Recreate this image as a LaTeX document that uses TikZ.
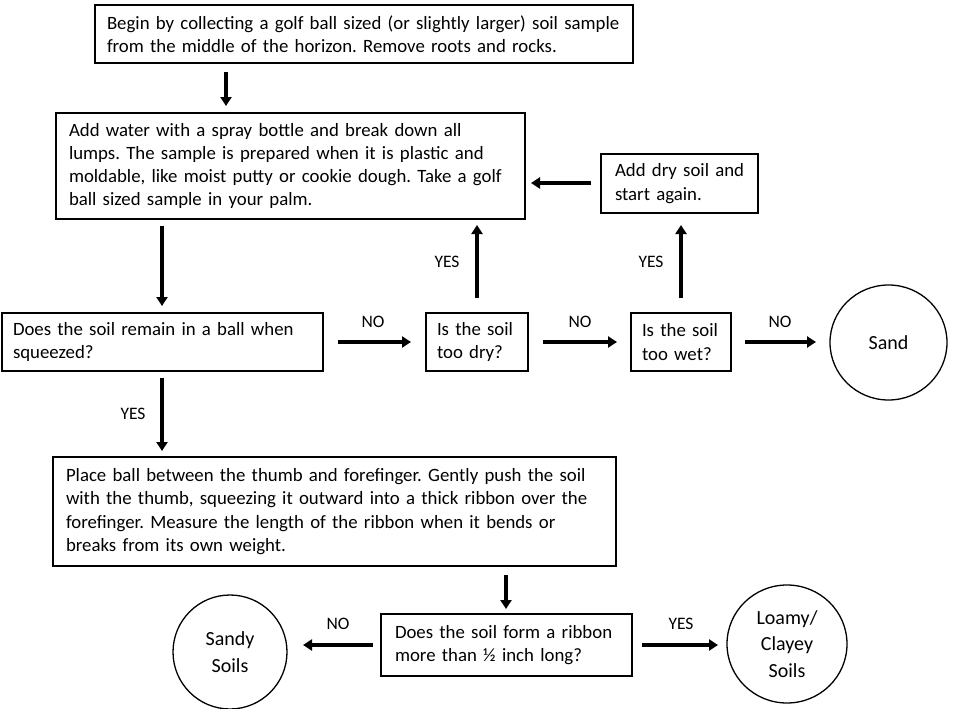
\documentclass[tikz,border=0pt]{standalone}
\usepackage{fontspec}
\setmainfont{Carlito}
\usetikzlibrary{arrows.meta,shapes.geometric}
\hyphenpenalty=10000
\exhyphenpenalty=10000
\begin{document}
\frenchspacing
\begin{tikzpicture}[x=1pt,y=-1pt,
  box/.style={draw, line width=1.2pt, align=left, inner ysep=0pt,
    font=\fontsize{18.8}{23.3}\selectfont},
  term/.style={draw, ellipse, line width=1.3pt, align=center, inner sep=0pt,
    font=\fontsize{20}{26.5}\selectfont},
  arr/.style={line width=3.2pt, -{Triangle[width=11pt,length=9pt]}},
  lab/.style={font=\fontsize{17.5}{18}\selectfont}]
\useasboundingbox (0,0) rectangle (953,709);
% boxes
\node[box, minimum width=538, minimum height=58, inner xsep=12pt, text width=514] (b1) at (364,34)
 {Begin by collecting a golf ball sized (or slightly larger) soil sample\\from the middle of the horizon. Remove roots and rocks.};
\node[box, minimum width=469, minimum height=106, inner xsep=13pt, text width=443] (b2) at (290.5,166)
 {Add water with a spray bottle and break down all\\lumps. The sample is prepared when it is plastic and\\moldable, like moist putty or cookie dough. Take a golf\\ball sized sample in your palm.};
\node[box, minimum width=157, minimum height=59, inner xsep=14pt, text width=129] (dry) at (679.5,183.5)
 {\mbox{Add dry soil and}\\\mbox{start again.}};
\node[box, minimum width=321, minimum height=58, inner xsep=11pt, text width=299] (q1) at (162.5,342)
 {Does the soil remain in a ball when\\squeezed?};
\node[box, minimum width=102, minimum height=58, inner xsep=11pt, text width=80] (q2) at (477,342)
 {Is the soil\\too dry?};
\node[box, minimum width=100, minimum height=58, inner xsep=11pt, text width=78] (q3) at (681,342)
 {Is the soil\\too wet?};
\node[box, minimum width=563, minimum height=109, inner xsep=13pt, text width=537] (b3) at (334.5,511.5)
 {Place ball between the thumb and forefinger. Gently push the soil\\with the thumb, squeezing it outward into a thick ribbon over the\\forefinger. Measure the length of the ribbon when it bends or\\breaks from its own weight.};
\node[box, minimum width=251, minimum height=62, inner xsep=14pt, text width=223] (q4) at (506.5,645)
 {Does the soil form a ribbon\\more than ½ inch long?};
% terminals
\node[term, minimum width=117, minimum height=115] (sand) at (888.5,342.5) {Sand};
\node[term, minimum width=114, minimum height=114] (sandy) at (230,652) {Sandy\\Soils};
\node[term, minimum width=120, minimum height=118] (loamy) at (787,644) {Loamy/\\Clayey\\Soils};
% connector end points
\coordinate (a1s) at (226,72);  \coordinate (a1e) at (226,106);
\coordinate (a2s) at (591,183); \coordinate (a2e) at (531,183);
\coordinate (a3s) at (162,226); \coordinate (a3e) at (162,306);
\coordinate (a4s) at (338,342); \coordinate (a4e) at (411,342);
\coordinate (a5s) at (477,298); \coordinate (a5e) at (477,225);
\coordinate (a6s) at (543,342); \coordinate (a6e) at (617,342);
\coordinate (a7s) at (681,298); \coordinate (a7e) at (681,225);
\coordinate (a8s) at (745,342); \coordinate (a8e) at (816,342);
\coordinate (a9s) at (162,378); \coordinate (a9e) at (162,451);
\coordinate (a10s) at (506,575); \coordinate (a10e) at (506,609);
\coordinate (a11s) at (373,645); \coordinate (a11e) at (303,645);
\coordinate (a12s) at (642,645); \coordinate (a12e) at (718,645);
\draw[arr] (a1s) -- (a1e);
\draw[arr] (a2s) -- (a2e);
\draw[arr] (a3s) -- (a3e);
\draw[arr] (a4s) -- (a4e);
\draw[arr] (a5s) -- (a5e);
\draw[arr] (a6s) -- (a6e);
\draw[arr] (a7s) -- (a7e);
\draw[arr] (a8s) -- (a8e);
\draw[arr] (a9s) -- (a9e);
\draw[arr] (a10s) -- (a10e);
\draw[arr] (a11s) -- (a11e);
\draw[arr] (a12s) -- (a12e);
% labels
\node[lab] (l1) at (373,322) {NO};
\node[lab] (l2) at (447,262) {YES};
\node[lab] (l3) at (580,322) {NO};
\node[lab] (l4) at (651,262) {YES};
\node[lab] (l5) at (780,322) {NO};
\node[lab] (l6) at (133,414) {YES};
\node[lab] (l7) at (338,624) {NO};
\node[lab] (l8) at (681,624) {YES};
\end{tikzpicture}
\end{document}
